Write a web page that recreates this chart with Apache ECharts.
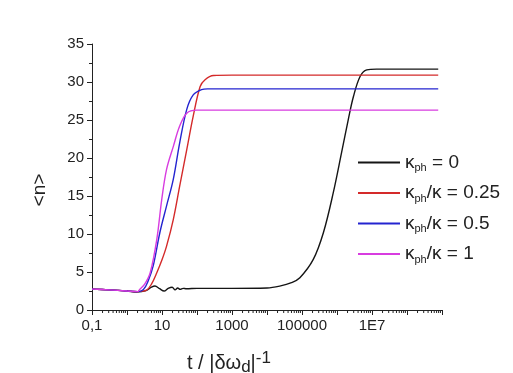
<!DOCTYPE html>
<html><head><meta charset="utf-8">
<script src="https://cdn.jsdelivr.net/npm/echarts@6/dist/echarts.min.js"></script>
<style>html,body{margin:0;padding:0;background:#fff}#c{width:513px;height:373px}</style>
</head><body><div id="c"></div>
<script>
// ---- data ----
const seriesNames = ['k0', 'k025', 'k05', 'k1'];
const legendLabels = ['{k|κ}{s|ph}{k| = 0}', '{k|κ}{s|ph}{k|/κ = 0.25}', '{k|κ}{s|ph}{k|/κ = 0.5}', '{k|κ}{s|ph}{k|/κ = 1}'];
const xTickLabels = { '-1': '0,1', '1': '10', '3': '1000', '5': '100000', '7': '1E7' };

const tBlack = [0.1, 0.3, 1, 1.9, 3.5, 5, 6.3, 8.5, 11.5, 15, 19.5, 23.7, 28, 33, 40, 50, 100, 1000, 1e4, 2.3e4, 5e4, 8.7e4, 2.1e5, 4.1e5, 7.8e5, 1.35e6, 2.1e6, 2.95e6, 4.6e6, 7.1e6, 1.35e7, 7.8e8];
const nBlack = [2.75, 2.65, 2.5, 2.37, 2.55, 3.0, 3.15, 2.8, 2.5, 2.85, 3.0, 2.65, 2.9, 2.72, 2.85, 2.8, 2.85, 2.85, 2.9, 3.15, 3.6, 4.25, 6.66, 10.2, 15.4, 20.7, 25.06, 28.1, 30.75, 31.6, 31.7, 31.7];

const tRed = [0.1, 0.3, 1, 2, 3.6, 5, 7.1, 10, 13.5, 21, 32, 51, 78, 123, 170, 295, 1000, 7.8e8];
const nRed = [2.75, 2.65, 2.5, 2.42, 2.6, 3.4, 4.9, 6.6, 8.4, 11.9, 16.3, 21.1, 25.5, 29.4, 30.3, 30.85, 30.9, 30.9];

const tBlue = [0.1, 0.3, 1, 2, 2.95, 4, 5.6, 8.7, 13.5, 21, 32, 51, 78, 135, 200, 1000, 7.8e8];
const nBlue = [2.75, 2.65, 2.5, 2.42, 2.7, 3.8, 5.8, 10.2, 13.7, 17.2, 22, 26.4, 28.3, 29.0, 29.1, 29.1, 29.1];

const tMag = [0.1, 0.3, 1, 2, 2.3, 3.2, 4.6, 7.1, 9.8, 13.5, 21, 32, 51, 98, 1000, 7.8e8];
const nMag = [2.75, 2.65, 2.5, 2.42, 2.7, 3.4, 4.9, 9.3, 14.5, 18.5, 21.5, 24.2, 25.9, 26.3, 26.3, 26.3];

const colors = ['#151515', '#d42a2a', '#2424d0', '#d83ce0'];

// ---- build ----
const pair = (ts, ns) => ts.map((t, i) => [t, ns[i]]);
const lines = [pair(tBlack, nBlack), pair(tRed, nRed), pair(tBlue, nBlue), pair(tMag, nMag)];

const minorX = [];
for (let k = -1; k < 9; k++) for (let m = 2; m <= 9; m++) minorX.push([m * Math.pow(10, k), 0]);

const chart = echarts.init(document.getElementById('c'), null, { renderer: 'canvas' });
const axisColor = '#222';
const FF = 'Liberation Sans, Arial, sans-serif';
const option = {
  animation: false,
  backgroundColor: '#fff',
  grid: { left: 92, top: 44, width: 350, height: 266 },
  xAxis: {
    type: 'log', logBase: 10, min: 0.1, max: 1e9, splitNumber: 10,
    axisLine: { show: true, lineStyle: { color: axisColor, width: 1 } },
    axisTick: { show: true, length: 5, lineStyle: { color: axisColor } },
    splitLine: { show: false },
    axisLabel: {
      fontFamily: FF, fontSize: 15, color: '#222', margin: 8,
      formatter: v => { const e = Math.round(Math.log10(v)); return xTickLabels[String(e)] || ''; }
    }
  },
  yAxis: {
    type: 'value', min: 0, max: 35, interval: 5,
    axisLine: { show: true, lineStyle: { color: axisColor, width: 1 } },
    axisTick: { show: true, length: 5, lineStyle: { color: axisColor } },
    minorTick: { show: true, splitNumber: 2, length: 3, lineStyle: { color: axisColor } },
    splitLine: { show: false },
    axisLabel: { fontFamily: FF, fontSize: 15, color: '#222', margin: 8 }
  },
  legend: {
    orient: 'vertical', left: 353, top: 148, itemWidth: 42, itemHeight: 2, itemGap: 10,
    icon: 'rect',
    data: seriesNames,
    formatter: name => legendLabels[seriesNames.indexOf(name)],
    textStyle: {
      color: '#222', fontFamily: FF, fontSize: 19,
      rich: {
        k: { fontFamily: FF, fontSize: 19, lineHeight: 22, color: '#222' },
        s: { fontFamily: FF, fontSize: 11, lineHeight: 10, verticalAlign: 'bottom', color: '#222' }
      }
    }
  },
  graphic: [
    {
      type: 'text', x: 40, y: 190, rotation: Math.PI / 2,
      style: { text: '<n>', font: '19px "Liberation Sans", Arial, sans-serif', fill: '#222', align: 'center', verticalAlign: 'middle' }
    },
    {
      type: 'text', x: 187, y: 350,
      style: {
        text: '{m|t / |δω}{d|d}{m||}{p|-1}', fill: '#222',
        rich: {
          m: { fontFamily: FF, fontSize: 20, lineHeight: 26 },
          d: { fontFamily: FF, fontSize: 17, lineHeight: 14, verticalAlign: 'bottom' },
          p: { fontFamily: FF, fontSize: 17, lineHeight: 12, verticalAlign: 'top' }
        }
      }
    }
  ],
  series: [
    ...lines.map((d, i) => ({
      name: seriesNames[i], type: 'line', data: d, symbol: 'none', smooth: 0.35,
      lineStyle: { color: colors[i], width: 1.4 }, itemStyle: { color: colors[i] }, z: 2 + i
    })),
    {
      type: 'custom', silent: true, clip: false, data: minorX, z: 1,
      renderItem: (params, api) => {
        const p = api.coord([api.value(0), api.value(1)]);
        return { type: 'line', shape: { x1: p[0], y1: p[1], x2: p[0], y2: p[1] + 3 }, style: { stroke: axisColor, lineWidth: 1 } };
      }
    }
  ]
};
chart.setOption(option);
</script></body></html>
